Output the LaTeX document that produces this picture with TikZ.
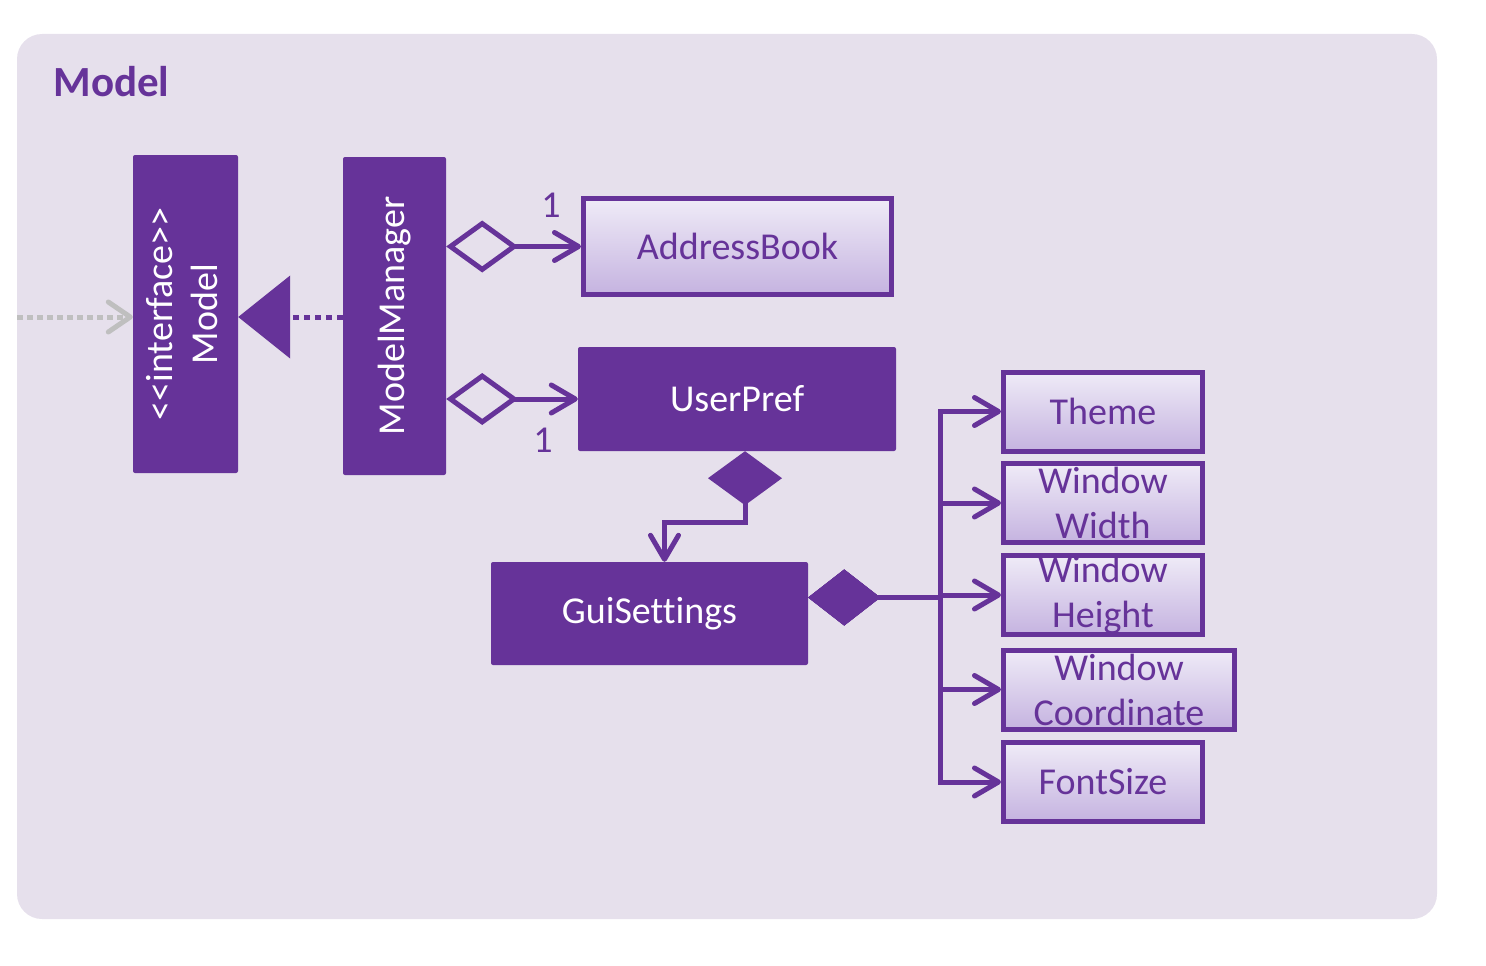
\documentclass[tikz,border=0pt]{standalone}
\usepackage{fontspec}
\setmainfont{Carlito}[Ligatures=CommonOff]
\usetikzlibrary{arrows.meta, positioning}

\definecolor{umlpurple}{HTML}{663399}
\definecolor{panelbg}{HTML}{E6E0EC}
\definecolor{boxtop}{HTML}{EFEBF7}
\definecolor{boxbot}{HTML}{C5B3E0}
\definecolor{extgray}{HTML}{BFBFBF}

\newcommand{\umlfont}{\fontsize{38}{45}\selectfont}

\begin{document}
\begin{tikzpicture}[x=1pt, y=1pt,
  solidbox/.style={fill=umlpurple, rounded corners=2pt, text=white, font=\umlfont, inner sep=0pt, align=center},
  attrbox/.style={draw=umlpurple, line width=5pt, top color=boxtop, bottom color=boxbot, text=umlpurple, font=\umlfont, inner sep=0pt, align=center, minimum width=199pt, minimum height=79pt},
  mult/.style={text=umlpurple, font=\umlfont},
  conn/.style={draw=umlpurple, line width=5pt},
  aggr/.style={conn, {Diamond[open,length=72pt,width=52pt]}-{Straight Barb[length=24pt,width=28pt,round]}},
  compo/.style={conn, {Diamond[length=72pt,width=56pt]}-{Straight Barb[length=24pt,width=28pt,round]}},
  realize/.style={draw=umlpurple, line width=5pt, dash pattern=on 6pt off 5pt, -{Triangle[length=52pt,width=82pt]}},
  extdep/.style={draw=extgray, line width=5pt, dash pattern=on 6pt off 4pt, -{Straight Barb[length=22pt,width=30pt,round]}}
]
\useasboundingbox (0,0) rectangle (1486,-966);

% Package panel
\fill[panelbg, rounded corners=25pt] (17,-34) rectangle (1437,-919);
\node[anchor=west, text=umlpurple, font=\fontsize{43}{50}\selectfont\bfseries] (title) at (50,-82) {Model};

% Interface and manager
\node[solidbox, minimum width=105pt, minimum height=318pt] (model) at (185.5,-314)
  {\rotatebox{90}{\begin{tabular}{@{}c@{}}<{}<interface>{}>\\Model\end{tabular}}};
\node[solidbox, minimum width=103pt, minimum height=318pt] (modelmgr) at (394.5,-316)
  {\rotatebox{90}{ModelManager}};

% Owned classes
\node[attrbox, minimum width=308pt, minimum height=96pt] (addressbook) at (737.5,-246.5) {AddressBook};
\node[solidbox, minimum width=318pt, minimum height=104pt] (userpref) at (737,-399) {UserPref};
\node[solidbox, minimum width=317pt, minimum height=103pt] (gui) at (649.5,-613.5) {GuiSettings};

% Settings
\node[attrbox] (theme) at (1103,-411.5) {Theme};
\node[attrbox] (wwidth) at (1103,-503) {Window\\Width};
\node[attrbox] (wheight) at (1103,-595) {Window\\Height};
\node[attrbox, minimum width=231pt] (wcoord) at (1119,-689.5) {Window\\Coordinate};
\node[attrbox] (fsize) at (1103,-782) {FontSize};

% Connectors
\coordinate (extsrc) at (17,-317);
\draw[extdep] (extsrc) -- (model.west |- extsrc);
\draw[realize] (modelmgr.west |- extsrc) -- (model.east |- extsrc);
\draw[aggr] (addressbook.west -| modelmgr.east) -- (addressbook.west);
\draw[aggr] (userpref.west -| modelmgr.east) -- (userpref.west);
\node[mult] (multab) at (551,-205) {1};
\node[mult] (multup) at (543,-440) {1};
\draw[conn, {Diamond[length=54pt,width=74pt]}-{Straight Barb[length=24pt,width=28pt,round]}]
  ([xshift=8pt]userpref.south) -- ++(0,-71) -| ([xshift=15pt]gui.north);
\foreach \b in {theme,wwidth,wheight,wcoord,fsize}
  \draw[compo] ([yshift=16pt]gui.east) -- (940,-597.5) |- (\b.west);
\end{tikzpicture}
\end{document}
